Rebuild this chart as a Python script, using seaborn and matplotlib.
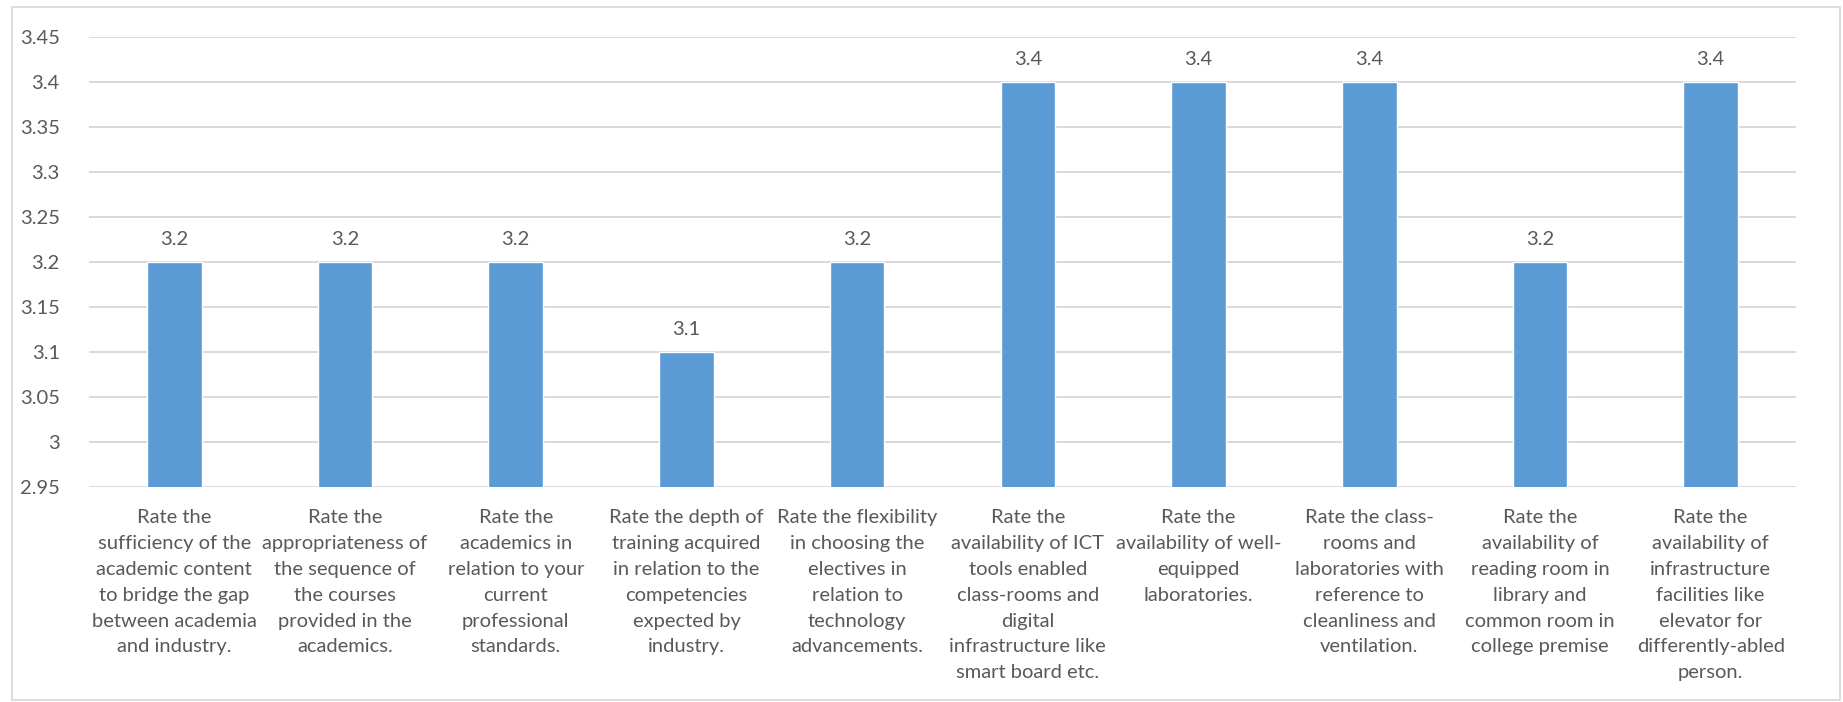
import numpy as np
import pandas as pd
import seaborn as sns
import matplotlib.pyplot as plt
from matplotlib.patches import Rectangle
from matplotlib.ticker import FuncFormatter


questions = [
    "Rate the\nsufficiency of the\nacademic content\nto bridge the gap\nbetween academia\nand industry.",
    "Rate the\nappropriateness of\nthe sequence of\nthe courses\nprovided in the\nacademics.",
    "Rate the\nacademics in\nrelation to your\ncurrent\nprofessional\nstandards.",
    "Rate the depth of\ntraining acquired\nin relation to the\ncompetencies\nexpected by\nindustry.",
    "Rate the flexibility\nin choosing the\nelectives in\nrelation to\ntechnology\nadvancements.",
    "Rate the\navailability of ICT\ntools enabled\nclass-rooms and\ndigital\ninfrastructure like\nsmart board etc.",
    "Rate the\navailability of well-\nequipped\nlaboratories.",
    "Rate the class-\nrooms and\nlaboratories with\nreference to\ncleanliness and\nventilation.",
    "Rate the\navailability of\nreading room in\nlibrary and\ncommon room in\ncollege premise",
    "Rate the\navailability of\ninfrastructure\nfacilities like\nelevator for\ndifferently-abled\nperson.",
]
scores = [3.2, 3.2, 3.2, 3.1, 3.2, 3.4, 3.4, 3.4, 3.2, 3.4]
y_ticks = [2.95, 3.0, 3.05, 3.1, 3.15, 3.2, 3.25, 3.3, 3.35, 3.4, 3.45]

df = pd.DataFrame({"question": questions, "score": scores})

sns.set_theme(style="white")
plt.rcParams['font.family'] = ['Lato', 'DejaVu Sans']

text_color = "#595959"
grid_color = "#D9D9D9"
bar_color = "#5B9BD5"
fs = 14.5

fig = plt.figure(figsize=(18.43, 7.02), dpi=100)
ax = fig.add_axes([89 / 1843, 1 - 487 / 702, (1796 - 89) / 1843, (487 - 37) / 702])

# outer chart frame
fig.patches.append(Rectangle((12 / 1843, 2 / 702), (1840 - 12) / 1843, 693 / 702,
                             transform=fig.transFigure, fill=False,
                             edgecolor=grid_color, linewidth=1.3))

for t in y_ticks:
    ax.axhline(t, color=grid_color, linewidth=1.4, zorder=0)

sns.barplot(data=df, x="question", y="score", color=bar_color, width=0.32,
            saturation=1, ax=ax, zorder=2)

ax.set_ylim(2.95, 3.45)
ax.set_yticks(y_ticks)
ax.yaxis.set_major_formatter(FuncFormatter(lambda v, p: "{:g}".format(round(v, 2))))
ax.set_xlabel("")
ax.set_ylabel("")
ax.bar_label(ax.containers[0], labels=["{:g}".format(v) for v in scores],
             padding=10, fontsize=fs, color=text_color)

for s in ax.spines.values():
    s.set_visible(False)
ax.tick_params(axis="both", length=0, labelsize=fs, colors=text_color)
ax.tick_params(axis="y", pad=21)
ax.tick_params(axis="x", pad=16)
for lbl in ax.get_xticklabels():
    lbl.set_linespacing(1.63)

fig.savefig("out.png", dpi=100)
